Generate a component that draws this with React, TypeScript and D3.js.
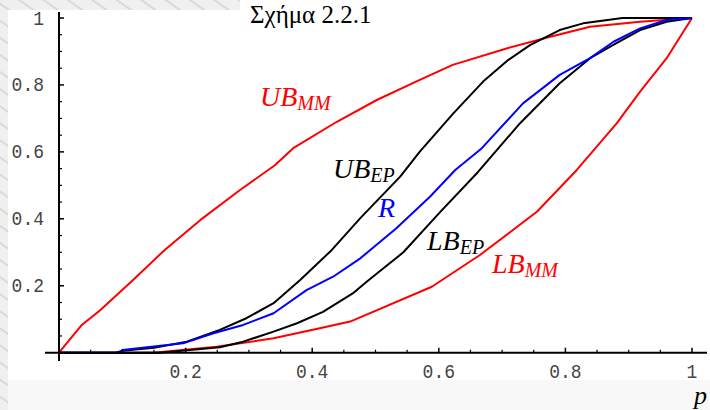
import React from "react";
import * as d3 from "d3";

// p values and bound curves
const ubMM: [number, number][] = [
  [0, 0], [0.036, 0.083], [0.065, 0.127], [0.117, 0.217], [0.167, 0.307], [0.223, 0.396],
  [0.286, 0.486], [0.341, 0.56], [0.37, 0.611], [0.439, 0.69], [0.502, 0.755], [0.57, 0.815],
  [0.622, 0.86], [0.707, 0.909], [0.776, 0.944], [0.839, 0.974], [0.918, 0.989], [0.96, 0.995], [1, 1],
];
const ubEP: [number, number][] = [
  [0, 0], [0.09, 0], [0.1, 0.006], [0.15, 0.015], [0.202, 0.033], [0.254, 0.068], [0.296, 0.103],
  [0.339, 0.148], [0.381, 0.217], [0.431, 0.307], [0.476, 0.402], [0.539, 0.526], [0.57, 0.601],
  [0.623, 0.715], [0.67, 0.81], [0.71, 0.875], [0.744, 0.919], [0.791, 0.964], [0.828, 0.984],
  [0.855, 0.991], [0.89, 1], [1, 1],
];
const rCurve: [number, number][] = [
  [0, 0], [0.096, 0], [0.1, 0.008], [0.196, 0.028], [0.244, 0.058], [0.291, 0.083], [0.339, 0.118],
  [0.391, 0.187], [0.433, 0.227], [0.476, 0.282], [0.533, 0.372], [0.586, 0.466], [0.626, 0.546],
  [0.668, 0.611], [0.733, 0.745], [0.791, 0.83], [0.839, 0.88], [0.876, 0.929], [0.918, 0.969],
  [0.96, 0.994], [1, 1],
];
const lbEP: [number, number][] = [
  [0, 0], [0.16, 0], [0.207, 0.008], [0.254, 0.016], [0.291, 0.033], [0.339, 0.063], [0.376, 0.088],
  [0.417, 0.122], [0.464, 0.177], [0.486, 0.212], [0.544, 0.3], [0.602, 0.42], [0.662, 0.54],
  [0.728, 0.685], [0.791, 0.805], [0.839, 0.88], [0.875, 0.919], [0.918, 0.964], [0.96, 0.989], [1, 1],
];
const lbMM: [number, number][] = [
  [0, 0], [0.149, 0], [0.249, 0.018], [0.339, 0.043], [0.412, 0.073], [0.46, 0.093], [0.589, 0.197],
  [0.665, 0.292], [0.755, 0.421], [0.818, 0.546], [0.881, 0.685], [0.918, 0.78], [0.96, 0.88], [1, 1],
];

const majorTicks = [0.2, 0.4, 0.6, 0.8, 1];
const tickLabels = ["0.2", "0.4", "0.6", "0.8", "1"];
const minorTicks = d3.range(1, 20).map((i) => i / 20).filter((v) => Math.abs(v * 5 - Math.round(v * 5)) > 1e-6);

const title = "Σχήμα 2.2.1";
const xLabel = "p";

const series = [
  { data: ubMM, color: "#ff0000" },
  { data: lbMM, color: "#ff0000" },
  { data: ubEP, color: "#000000" },
  { data: lbEP, color: "#000000" },
  { data: rCurve, color: "#0000ff" },
];

const curveLabels = [
  { main: "UB", sub: "MM", x: 260, y: 106, color: "#ff0000" },
  { main: "UB", sub: "EP", x: 333, y: 178, color: "#000000" },
  { main: "R", sub: "", x: 378, y: 217, color: "#0000ff" },
  { main: "LB", sub: "EP", x: 427, y: 250, color: "#000000" },
  { main: "LB", sub: "MM", x: 492, y: 273, color: "#ff0000" },
];

const SERIF = '"Liberation Serif", "Times New Roman", "DejaVu Serif", serif';
const MONO = '"Liberation Mono", "Courier New", "DejaVu Sans Mono", monospace';

export default function App() {
  const W = 710, H = 410;
  const x = d3.scaleLinear().domain([0, 1]).range([59, 692]);
  const y = d3.scaleLinear().domain([0, 1]).range([352.7, 18]);
  const line = d3.line<[number, number]>().x((d) => x(d[0])).y((d) => y(d[1]));
  const x0 = x(0), y0 = y(0);

  return (
    <svg width={W} height={H} style={{ position: "absolute", left: 0, top: 0 }}>
      <defs>
        <pattern id="streak" width="14" height="14" patternUnits="userSpaceOnUse" patternTransform="rotate(35)">
          <rect width="14" height="14" fill="#f0f0f0" />
          <line x1="0" y1="3" x2="14" y2="3" stroke="#d9d9d9" strokeWidth="2" />
        </pattern>
      </defs>
      <rect x={0} y={0} width={W} height={H} fill="url(#streak)" />
      <rect x={8} y={10} width={W - 8} height={370} fill="#ffffff" />
      <rect x={240} y={0} width={W - 240} height={10} fill="#ffffff" />
      <rect x={8} y={380} width={W - 8} height={30} fill="#f8f8f8" />

      {/* title */}
      <text x={250} y={23} style={{ fontFamily: SERIF, fontSize: 25 }} fill="#000">{title}</text>

      {/* curves */}
      {series.map((s, i) => (
        <path key={i} d={line(s.data) || ""} fill="none" stroke={s.color} strokeWidth={2} strokeLinejoin="round" />
      ))}

      {/* axes */}
      <line x1={45} x2={707} y1={y0} y2={y0} stroke="#000" strokeWidth={2} />
      <line x1={x0} x2={x0} y1={12} y2={361} stroke="#000" strokeWidth={2} />
      {majorTicks.map((t) => (
        <g key={"mx" + t}>
          <line x1={x(t)} x2={x(t)} y1={y0} y2={y0 - 5} stroke="#000" strokeWidth={1.5} />
          <line x1={x0} x2={x0 + 5} y1={y(t)} y2={y(t)} stroke="#000" strokeWidth={1.5} />
        </g>
      ))}
      {minorTicks.map((t) => (
        <g key={"mn" + t}>
          <line x1={x(t)} x2={x(t)} y1={y0} y2={y0 - 3} stroke="#000" strokeWidth={1.2} />
          <line x1={x0} x2={x0 + 3} y1={y(t)} y2={y(t)} stroke="#000" strokeWidth={1.2} />
        </g>
      ))}
      {majorTicks.map((t, i) => (
        <g key={"lx" + t}>
          <text transform={`translate(${x(t)},378) scale(1,1.15)`} textAnchor="middle" style={{ fontFamily: MONO, fontSize: 18, fontWeight: 300 }} fill="#444">{tickLabels[i]}</text>
          <text transform={`translate(44,${y(t) + 6.5}) scale(1,1.15)`} textAnchor="end" style={{ fontFamily: MONO, fontSize: 18, fontWeight: 300 }} fill="#444">{tickLabels[i]}</text>
        </g>
      ))}
      <text x={694} y={404} style={{ fontFamily: SERIF, fontStyle: "italic", fontSize: 26 }} fill="#000">{xLabel}</text>

      {/* curve labels */}
      {curveLabels.map((l, i) => (
        <text key={i} x={l.x} y={l.y} style={{ fontFamily: SERIF, fontStyle: "italic", fontSize: 28 }} fill={l.color}>
          {l.main}
          {l.sub && <tspan style={{ fontSize: 20 }} dy={4}>{l.sub}</tspan>}
        </text>
      ))}
    </svg>
  );
}
